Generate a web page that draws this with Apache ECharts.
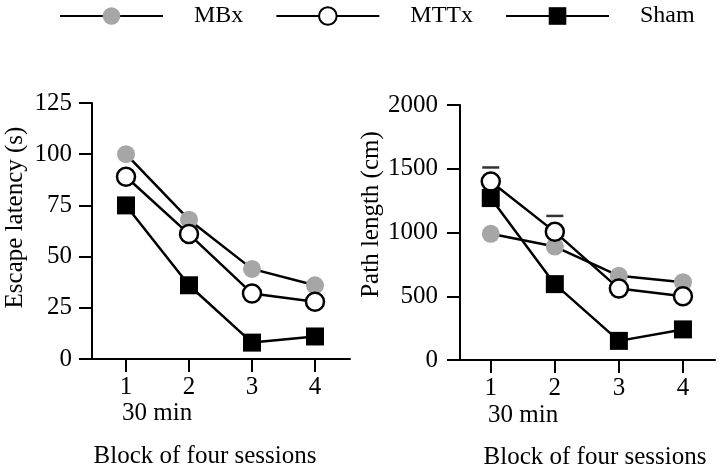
<!DOCTYPE html>
<html>
<head>
<meta charset="utf-8">
<script src="https://cdn.jsdelivr.net/npm/echarts@6/dist/echarts.min.js"></script>
<style>
  html, body { margin: 0; padding: 0; background: #fff; }
  #chart { width: 720px; height: 475px; }
</style>
</head>
<body>
<div id="chart"></div>
<script>
// blocks of four sessions
var blocks = [1, 2, 3, 4];

// escape latency (s)
var latencyMBx = [100, 68, 44, 36];
var latencyMTTx = [89, 61, 32, 28];
var latencySham = [75, 36, 8, 11];

// path length (cm)
var pathMBx = [990, 890, 660, 610];
var pathMTTx = [1400, 1005, 560, 500];
var pathSham = [1270, 595, 150, 240];
// error bar caps shown above MTTx
var pathCapBlocks = [1, 2];
var pathCaps = [1510, 1130];

var font = "'Liberation Serif', 'Times New Roman', serif";
var fs = 25;
var gray = '#a6a6a6';

function pairs(xs, ys) {
  return xs.map(function (x, i) { return [x, ys[i]]; });
}

var chart = echarts.init(document.getElementById('chart'));

function xAxisFor(idx, min, max, padding) {
  return {
    type: 'value', gridIndex: idx, min: min, max: max,
    name: 'Block of four sessions', nameLocation: 'middle', nameGap: 85,
    nameTextStyle: { fontFamily: font, fontSize: fs, color: '#000', padding: padding },
    axisLine: { lineStyle: { color: '#000', width: 2 } },
    axisTick: { customValues: blocks, length: 13, lineStyle: { color: '#000', width: 2 } },
    axisLabel: { customValues: blocks, margin: 16, fontFamily: font, fontSize: fs, color: '#000' },
    splitLine: { show: false }
  };
}

function yAxisFor(idx, max, interval, name, gap, labelMargin, padding) {
  return {
    type: 'value', gridIndex: idx, min: 0, max: max, interval: interval,
    name: name, nameLocation: 'middle', nameGap: gap,
    nameTextStyle: { fontFamily: font, fontSize: fs, color: '#000', padding: padding },
    axisLine: { show: true, lineStyle: { color: '#000', width: 2 } },
    axisTick: { show: true, length: 13, lineStyle: { color: '#000', width: 2 } },
    axisLabel: {
      margin: labelMargin, fontFamily: font, fontSize: fs, color: '#000',
      formatter: function (v) { return String(v); }
    },
    splitLine: { show: false }
  };
}

function lineSeries(name, idx, data, symbol, fill, border) {
  return {
    name: name, type: 'line', xAxisIndex: idx, yAxisIndex: idx,
    data: pairs(blocks, data),
    symbol: symbol, symbolSize: 18,
    showAllSymbol: true,
    lineStyle: { color: '#000', width: 2.5 },
    itemStyle: { color: fill, borderColor: border, borderWidth: border ? 2.5 : 0 },
    emphasis: { disabled: true }
  };
}

var option = {
  animation: false,
  legend: {
    data: ['MBx', 'MTTx', 'Sham'],
    left: 59, top: 4, padding: 0,
    itemWidth: 103, itemHeight: 22, itemGap: 32,
    textStyle: { fontFamily: font, fontSize: 24, color: '#000', padding: [0, 0, 0, 26] }
  },
  grid: [
    { left: 92, top: 103, width: 258, height: 256 },
    { left: 460, top: 105, width: 255, height: 256 }
  ],
  xAxis: [
    xAxisFor(0, 0.46, 4.556, [0, 32, 0, 0]),
    xAxisFor(1, 0.52, 4.5, [0, 0, 0, 15])
  ],
  yAxis: [
    yAxisFor(0, 125, 25, 'Escape latency (s)', 64, 20, [0, 0, 0, 27]),
    yAxisFor(1, 2000, 500, 'Path length (cm)', 72, 22, [0, 0, 0, 36])
  ],
  graphic: [
    { type: 'text', left: 122, top: 401, style: { text: '30 min', font: fs + 'px ' + font, fill: '#000' } },
    { type: 'text', left: 488, top: 403, style: { text: '30 min', font: fs + 'px ' + font, fill: '#000' } }
  ],
  series: [
    lineSeries('MBx', 0, latencyMBx, 'circle', gray, null),
    lineSeries('MTTx', 0, latencyMTTx, 'circle', '#fff', '#000'),
    lineSeries('Sham', 0, latencySham, 'rect', '#000', null),
    lineSeries('MBx', 1, pathMBx, 'circle', gray, null),
    lineSeries('MTTx', 1, pathMTTx, 'circle', '#fff', '#000'),
    lineSeries('Sham', 1, pathSham, 'rect', '#000', null),
    {
      type: 'scatter', xAxisIndex: 1, yAxisIndex: 1,
      data: pairs(pathCapBlocks, pathCaps),
      symbol: 'rect', symbolSize: [17, 2.5],
      itemStyle: { color: '#000' },
      silent: true
    }
  ]
};

chart.setOption(option);
</script>
</body>
</html>
